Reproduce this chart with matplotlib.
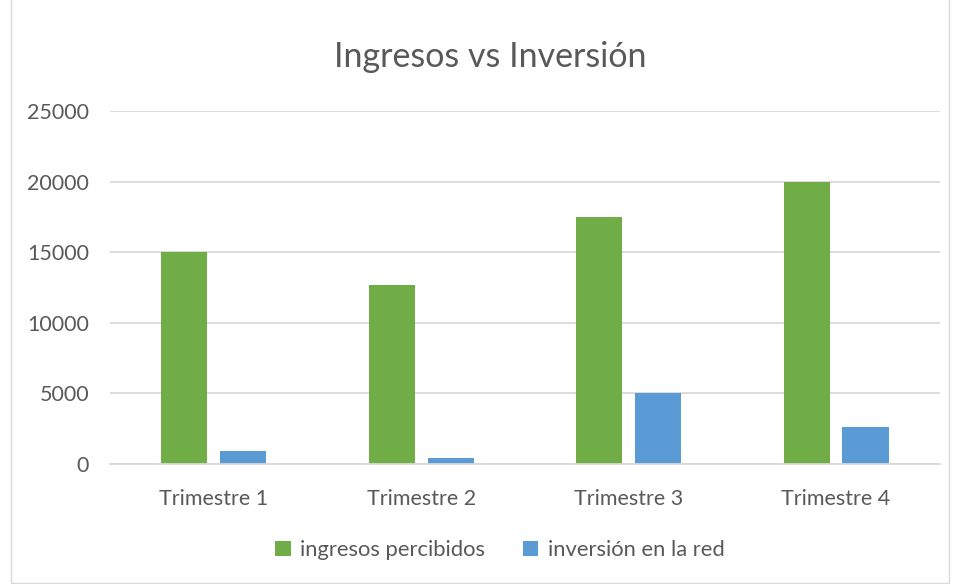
import numpy as np
import matplotlib.pyplot as plt
from matplotlib.patches import Rectangle

# datos
trimestres = ['Trimestre 1', 'Trimestre 2', 'Trimestre 3', 'Trimestre 4']
ingresos = [15000, 12700, 17500, 20000]
inversion = [950, 400, 5000, 2600]
yticks = [0, 5000, 10000, 15000, 20000, 25000]

verde = '#70AD47'
azul = '#5B9BD5'
gris = '#595959'

plt.rcParams['font.family'] = ['Lato', 'DejaVu Sans']

fig = plt.figure(figsize=(9.56, 5.84), dpi=100)
ax = fig.add_axes([0.115, 0.2055, 0.868, 0.6045])

x = np.arange(len(trimestres))
ancho = 0.222
ax.bar(x - 0.142, ingresos, ancho, color=verde, label='ingresos percibidos')
ax.bar(x + 0.142, inversion, ancho, color=azul, label='inversión en la red')

ax.set_xlim(-0.5, 3.5)
ax.set_ylim(0, 25000)
ax.set_yticks(yticks)
ax.set_xticks(x)
ax.set_xticklabels(trimestres)
ax.grid(axis='y', color='#D9D9D9', linewidth=1.3)
ax.set_axisbelow(True)
for s in ['top', 'right', 'left']:
    ax.spines[s].set_visible(False)
ax.spines['bottom'].set_color('#D9D9D9')
ax.spines['bottom'].set_linewidth(1.3)
ax.tick_params(length=0, labelcolor=gris, labelsize=15.5)
ax.tick_params(axis='y', pad=15)
ax.tick_params(axis='x', pad=18)

fig.text(0.5125, 0.902, 'Ingresos vs Inversión', ha='center', va='center',
         fontsize=24.5, color=gris)

fig.legend(loc='center', bbox_to_anchor=(0.523, 0.058), ncol=2, frameon=False,
           fontsize=15.8, labelcolor=gris, handlelength=0.7, handleheight=0.7,
           handletextpad=0.45, columnspacing=1.7)

# marco del gráfico
fig.patches.append(Rectangle((0.011, 0.002), 0.982, 1.1, transform=fig.transFigure,
                             fill=False, edgecolor='#D9D9D9', linewidth=1))

fig.savefig('out.png', dpi=100)
